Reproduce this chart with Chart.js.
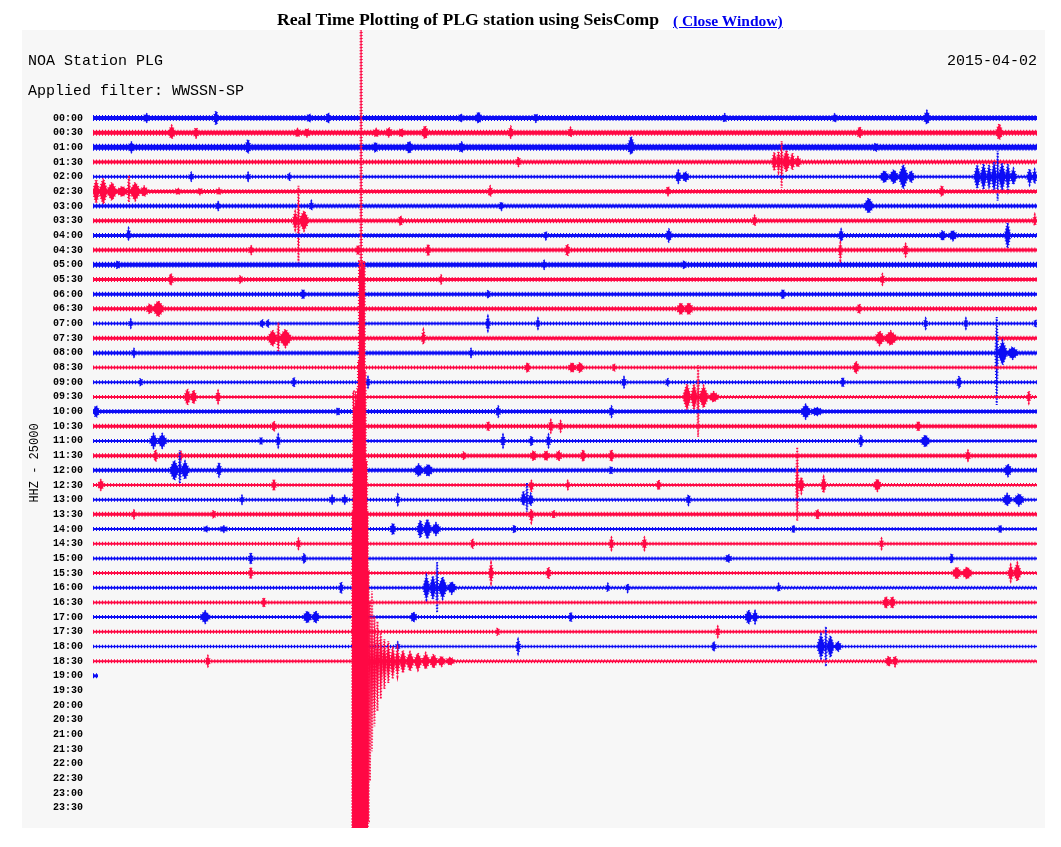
<!DOCTYPE html>
<html>
<head>
<meta charset="utf-8">
<title>PLG helicorder</title>
<script src="https://cdn.jsdelivr.net/npm/chart.js@4.4.1/dist/chart.umd.min.js"></script>
<style>
  body { margin: 0; background: #fff; }
  #wrap { position: relative; width: 1061px; height: 847px; }
  #wrap canvas { position: absolute; left: 0; top: 0; }
  #title { position: absolute; top: 9px; left: 277px; font: bold 17.7px "Liberation Serif", serif; white-space: nowrap; color: #000; z-index: 2; }
  #close { position: absolute; top: 12px; left: 673px; font: bold 15.5px "Liberation Serif", serif; white-space: nowrap; color: #0000ee; z-index: 2; }
</style>
</head>
<body>
<div id="wrap">
  <div id="title">Real Time Plotting of PLG station using SeisComp</div>
  <a id="close" href="#">( Close Window)</a>
  <canvas id="heli" width="1061" height="847"></canvas>
</div>
<script>
// Подписи и заголовки
const stationName = "NOA Station PLG";
const filterName = "Applied filter: WWSSN-SP";
const dateLabel = "2015-04-02";
const channelLabel = "HHZ - 25000";

const rowLabels = [
  "00:00", "00:30", "01:00", "01:30", "02:00", "02:30", "03:00", "03:30",
  "04:00", "04:30", "05:00", "05:30", "06:00", "06:30", "07:00", "07:30",
  "08:00", "08:30", "09:00", "09:30", "10:00", "10:30", "11:00", "11:30",
  "12:00", "12:30", "13:00", "13:30", "14:00", "14:30", "15:00", "15:30",
  "16:00", "16:30", "17:00", "17:30", "18:00", "18:30", "19:00", "19:30",
  "20:00", "20:30", "21:00", "21:30", "22:00", "22:30", "23:00", "23:30"
];

// Расстояние между строками (в единицах амплитуды) и конец записи в последней строке (мин)
const ROW_GAP = 14.68;
const lastTraceEnd = 0.16;

// Фоновый уровень шума для каждой записанной строки (полуамплитуда)
const rowBase = [
  2, 2, 2.5, 1.5, 1, 1.5, 1.5, 1.5, 1.5, 1.5,
  2, 1.5, 1.5, 1.5, 1, 1.5, 1.5, 1, 1, 1,
  1.5, 1.5, 1, 1.5, 1.5, 1, 1, 1.5, 1, 1,
  1, 1, 1, 1, 1, 1, 0.8, 1, 1.5
];

// Всплески по строкам: [начало, конец (мин), вверх, вниз]
const rowEvents = [
  [[1.6, 1.8, 4, 4], [3.84, 3.98, 7, 7], [6.8, 6.95, 4, 4], [7.40, 7.55, 5, 5], [11.62, 11.76, 4, 4], [12.15, 12.35, 6, 5], [14.0, 14.15, 4, 4], [20.0, 20.15, 4, 4], [23.5, 23.65, 4, 4], [26.40, 26.6, 7, 6]],
  [[2.40, 2.6, 7, 6], [3.20, 3.35, 5, 5], [6.4, 6.6, 4, 4], [6.7, 6.9, 4, 4], [8.9, 9.1, 4, 4], [9.3, 9.5, 5, 4], [9.7, 9.9, 4, 4], [10.45, 10.65, 7, 6], [13.2, 13.35, 6, 5], [15.1, 15.25, 5, 4], [24.28, 24.45, 6, 5], [28.70, 28.9, 9, 7]],
  [[1.14, 1.3, 5, 5], [4.85, 5.0, 8, 6], [8.9, 9.05, 5, 5], [9.95, 10.15, 6, 6], [11.62, 11.8, 5, 5], [17.0, 17.2, 11, 7], [24.8, 24.95, 4, 4]],
  [[13.44, 13.6, 5, 4], [21.58, 21.72, 10, 9], [21.72, 21.85, 11, 10], [21.85, 21.92, 21, 26], [21.92, 22.15, 12, 10], [22.15, 22.3, 9, 8], [22.3, 22.5, 5, 5]],
  [[3.05, 3.2, 4, 4], [4.86, 5.0, 4, 4], [6.18, 6.3, 4, 4], [18.5, 18.7, 6, 6], [18.7, 18.95, 5, 5], [25.0, 25.3, 6, 6], [25.3, 25.6, 7, 7], [25.6, 25.9, 12, 12], [25.9, 26.1, 6, 6], [28.0, 28.2, 12, 12], [28.2, 28.4, 13, 13], [28.4, 28.55, 12, 12], [28.55, 28.72, 15, 15], [28.72, 28.78, 26, 24], [28.78, 29.0, 14, 14], [29.0, 29.15, 13, 13], [29.15, 29.35, 8, 8], [29.68, 29.85, 8, 8], [29.85, 30, 7, 7]],
  [[0, 0.2, 12, 12], [0.2, 0.45, 13, 13], [0.45, 0.75, 9, 9], [0.75, 1.1, 5, 5], [1.1, 1.18, 16, 11], [1.18, 1.5, 9, 9], [1.5, 1.75, 5, 5], [2.6, 2.8, 3, 3], [3.3, 3.5, 3, 3], [3.9, 4.1, 3, 3], [12.55, 12.7, 5, 5], [18.2, 18.35, 5, 4], [26.9, 27.05, 6, 5]],
  [[3.9, 4.05, 4, 4], [6.88, 7.0, 5, 4], [12.9, 13.05, 4, 4], [24.5, 24.8, 8, 7]],
  [[6.35, 6.50, 9, 9], [6.50, 6.56, 35, 42], [6.56, 6.85, 10, 10], [9.7, 9.85, 5, 5], [20.95, 21.1, 5, 5], [29.88, 29.98, 6, 5]],
  [[1.06, 1.2, 7, 4], [14.33, 14.45, 4, 4], [18.2, 18.4, 6, 6], [23.7, 23.85, 6, 6], [26.9, 27.1, 5, 5], [27.2, 27.45, 5, 5], [28.98, 29.15, 13, 13]],
  [[4.95, 5.1, 4, 4], [8.35, 8.5, 5, 5], [10.58, 10.72, 6, 6], [15.0, 15.15, 6, 6], [23.7, 23.8, 7, 10], [25.75, 25.9, 6, 6]],
  [[0.72, 0.85, 4, 4], [14.28, 14.4, 4, 4], [18.72, 18.85, 4, 4]],
  [[2.4, 2.55, 6, 6], [4.62, 4.75, 4, 4], [11.0, 11.12, 4, 4], [25.03, 25.15, 5, 5]],
  [[6.6, 6.75, 5, 5], [12.5, 12.62, 4, 4], [21.85, 22.0, 5, 5]],
  [[1.7, 1.9, 5, 5], [1.9, 2.25, 8, 8], [18.56, 18.8, 6, 6], [18.8, 19.07, 6, 6], [24.28, 24.42, 5, 5]],
  [[1.14, 1.26, 4, 4], [5.3, 5.45, 4, 4], [5.5, 5.62, 4, 4], [12.48, 12.62, 7, 7], [14.08, 14.2, 5, 5], [26.4, 26.52, 5, 5], [27.68, 27.8, 5, 5], [29.9, 30, 4, 4]],
  [[5.56, 5.85, 8, 8], [5.85, 5.93, 16, 14], [5.93, 6.3, 9, 9], [10.44, 10.56, 8, 6], [24.85, 25.15, 7, 7], [25.15, 25.55, 7, 7]],
  [[1.24, 1.36, 4, 4], [11.95, 12.08, 4, 4], [28.68, 28.76, 36, 52], [28.76, 29.05, 12, 12], [29.05, 29.4, 6, 6]],
  [[13.72, 13.9, 5, 5], [15.1, 15.35, 5, 5], [15.35, 15.6, 5, 5], [16.5, 16.62, 4, 4], [24.15, 24.35, 6, 6]],
  [[1.45, 1.58, 4, 4], [6.32, 6.45, 5, 5], [8.68, 8.8, 5, 5], [16.8, 16.95, 5, 5], [18.2, 18.32, 4, 4], [23.76, 23.9, 5, 5], [27.45, 27.6, 6, 6]],
  [[2.9, 3.1, 8, 8], [3.1, 3.3, 7, 7], [3.9, 4.05, 6, 6], [18.75, 19.0, 13, 13], [19.0, 19.2, 13, 13], [19.2, 19.26, 32, 40], [19.26, 19.55, 11, 11], [19.55, 19.9, 5, 5], [29.68, 29.8, 6, 6]],
  [[0, 0.2, 6, 6], [7.72, 7.85, 4, 4], [12.8, 12.95, 5, 5], [16.4, 16.55, 5, 5], [22.5, 22.8, 7, 7], [22.8, 23.2, 4, 4]],
  [[5.68, 5.82, 5, 5], [12.5, 12.62, 5, 5], [14.48, 14.62, 6, 6], [14.8, 14.92, 5, 5], [26.15, 26.3, 5, 5]],
  [[1.8, 2.05, 7, 7], [2.05, 2.35, 7, 7], [5.28, 5.4, 4, 4], [5.82, 5.95, 6, 6], [12.96, 13.1, 6, 6], [13.86, 14.0, 5, 5], [14.4, 14.55, 6, 6], [24.33, 24.48, 6, 6], [26.3, 26.6, 6, 6]],
  [[1.93, 2.05, 6, 6], [2.72, 2.85, 5, 5], [11.72, 11.85, 4, 4], [13.9, 14.1, 5, 5], [14.3, 14.5, 5, 5], [14.7, 14.9, 5, 5], [15.5, 15.65, 6, 6], [16.4, 16.55, 6, 6], [27.73, 27.88, 5, 5]],
  [[2.45, 2.72, 10, 10], [2.72, 2.8, 20, 13], [2.8, 3.05, 9, 9], [3.93, 4.08, 8, 6], [10.2, 10.5, 6, 6], [10.5, 10.8, 6, 6], [16.4, 16.52, 4, 4], [28.95, 29.2, 6, 6]],
  [[0.15, 0.35, 5, 5], [5.68, 5.82, 6, 6], [13.86, 14.0, 4, 7], [15.03, 15.15, 4, 4], [17.9, 18.05, 5, 5], [22.34, 22.42, 38, 36], [22.42, 22.6, 8, 8], [23.14, 23.3, 8, 8], [24.8, 25.05, 6, 6]],
  [[4.67, 4.8, 4, 4], [7.5, 7.7, 4, 4], [7.9, 8.1, 4, 4], [9.62, 9.75, 5, 5], [13.6, 13.76, 9, 6], [13.76, 13.82, 17, 12], [13.82, 14.0, 6, 6], [18.85, 19.0, 5, 5], [28.9, 29.2, 6, 6], [29.25, 29.6, 6, 6]],
  [[1.24, 1.36, 4, 4], [3.77, 3.9, 4, 4], [13.86, 14.0, 5, 8], [14.58, 14.7, 4, 4], [22.95, 23.1, 5, 5]],
  [[3.5, 3.7, 3, 3], [4.0, 4.3, 3, 3], [9.44, 9.62, 6, 6], [10.3, 10.5, 9, 9], [10.5, 10.75, 10, 10], [10.75, 11.05, 6, 6], [13.32, 13.45, 4, 4], [22.2, 22.32, 4, 4], [28.76, 28.9, 4, 4]],
  [[6.46, 6.6, 5, 5], [12.0, 12.12, 5, 5], [16.4, 16.55, 6, 6], [17.45, 17.6, 6, 6], [25.0, 25.12, 5, 5]],
  [[4.95, 5.08, 6, 6], [6.64, 6.78, 5, 5], [20.08, 20.3, 4, 4], [27.22, 27.35, 5, 5]],
  [[4.95, 5.08, 6, 6], [12.58, 12.72, 10, 10], [14.4, 14.55, 6, 6], [27.3, 27.6, 6, 6], [27.6, 27.95, 6, 6], [29.08, 29.25, 8, 8], [29.25, 29.5, 10, 8]],
  [[7.82, 7.95, 6, 6], [10.49, 10.7, 12, 12], [10.7, 10.9, 12, 12], [10.9, 10.97, 26, 25], [10.97, 11.25, 11, 11], [11.25, 11.55, 6, 6], [16.3, 16.42, 4, 4], [16.93, 17.05, 4, 4], [21.73, 21.85, 4, 4]],
  [[5.36, 5.5, 5, 5], [25.1, 25.3, 6, 6], [25.3, 25.5, 6, 6]],
  [[3.4, 3.72, 6, 6], [6.67, 6.95, 6, 6], [6.95, 7.2, 6, 6], [10.07, 10.3, 5, 5], [15.12, 15.25, 5, 5], [20.72, 20.95, 7, 7], [20.95, 21.13, 6, 6]],
  [[12.8, 12.92, 4, 4], [19.79, 19.92, 5, 5]],
  [[9.62, 9.75, 4, 4], [13.44, 13.58, 7, 7], [19.66, 19.8, 5, 5], [23.01, 23.26, 12, 12], [23.26, 23.32, 20, 20], [23.32, 23.55, 11, 11], [23.55, 23.8, 5, 5]],
  // 18:30 — кода землетрясения
  [[3.58, 3.72, 5, 5],
   [8.77, 8.83, 60, 120], [8.83, 8.9, 70, 90], [8.9, 8.99, 45, 65], [8.99, 9.09, 40, 50], [9.09, 9.2, 30, 38],
   [9.2, 9.32, 22, 28], [9.32, 9.45, 20, 22], [9.45, 9.6, 15, 18], [9.6, 9.75, 13, 15], [9.75, 9.95, 11, 12],
   [9.95, 10.2, 9, 10], [10.2, 10.45, 8, 9], [10.45, 10.7, 8, 8], [10.7, 10.95, 7, 7], [10.95, 11.2, 5, 5],
   [11.2, 11.5, 4, 4], [25.17, 25.4, 5, 5], [25.4, 25.58, 5, 5]],
  []
];

// Главная фаза землетрясения в строке 18:30: [время (мин), вверх, вниз] по столбцам
const QUAKE_ROW = 37;
const quakeColumns = [
  [8.23, 150, 170], [8.26, 270, 170], [8.29, 255, 170], [8.33, 270, 170], [8.36, 262, 170],
  [8.39, 272, 170], [8.42, 300, 170], [8.45, 400, 170], [8.48, 392, 170], [8.50, 640, 170],
  [8.54, 400, 170], [8.58, 395, 170], [8.61, 400, 170], [8.64, 290, 170], [8.67, 200, 170],
  [8.71, 150, 170], [8.74, 90, 160]
];
const quakeCoreEnd = 8.77;

const BLUE = "#0c0cf5";
const RED = "#ff0844";

// Сборка огибающих: каждый всплеск — веретено (подъём к середине и спад).
// x строго растёт, иначе заливка между огибающими рвётся.
const EPS = 0.002;
function buildRow(r) {
  const base = rowBase[r];
  const off = r * ROW_GAP;
  const end = r === rowBase.length - 1 ? lastTraceEnd : 30;
  const segs = rowEvents[r].map(([s, e, up, down]) => ({ s, e, up, down }));
  if (r === QUAKE_ROW) segs.push({ s: quakeColumns[0][0], e: quakeCoreEnd, cols: quakeColumns });
  segs.sort((a, b) => a.s - b.s);

  const upper = [];
  const lower = [];
  const add = (x, up, down) => {
    const last = upper[upper.length - 1];
    if (last && x <= last.x) return;
    upper.push({ x, y: off - up });
    lower.push({ x, y: off + down });
  };
  add(0, base, base);
  segs.forEach((seg) => {
    add(seg.s, base, base);
    if (seg.cols) {
      seg.cols.forEach(([t, up, down], i) => {
        const next = i + 1 < seg.cols.length ? seg.cols[i + 1][0] : seg.e;
        add(t + EPS, up, down);
        add(next - EPS, up, down);
      });
    } else {
      add((seg.s + seg.e) / 2, seg.up, seg.down);
    }
    add(seg.e, base, base);
  });
  add(end, base, base);
  return { upper, lower };
}

const datasets = [];
rowBase.forEach((_, r) => {
  const { upper, lower } = buildRow(r);
  const color = r % 2 ? RED : BLUE;
  // пунктирная кромка даёт «шумную» фактуру трассы
  const common = {
    borderColor: color, backgroundColor: color, borderWidth: 2, borderDash: [1, 2],
    pointRadius: 0, tension: 0, order: -r
  };
  datasets.push({ ...common, data: upper, fill: false });
  datasets.push({ ...common, data: lower, fill: "-1" });
});

// Фон панели и надписи
const panelPlugin = {
  id: "panel",
  beforeDraw(chart) {
    const c = chart.ctx;
    c.save();
    c.fillStyle = "#f7f7f7";
    c.fillRect(22, 30, 1023, 798);
    c.fillStyle = "#000";
    c.font = '15px "Liberation Mono", monospace';
    c.textBaseline = "alphabetic";
    c.textAlign = "left";
    c.fillText(stationName, 28, 65);
    c.fillText(filterName, 28, 95);
    c.textAlign = "right";
    c.fillText(dateLabel, 1037, 65);
    c.translate(38, 463);
    c.rotate(-Math.PI / 2);
    c.textAlign = "center";
    c.font = '12px "Liberation Mono", monospace';
    c.fillText(channelLabel, 0, 0);
    c.restore();
  }
};

new Chart(document.getElementById("heli").getContext("2d"), {
  type: "line",
  data: { datasets },
  options: {
    responsive: false,
    animation: false,
    events: [],
    layout: { padding: { top: 30, right: 24, bottom: 19, left: 0 } },
    plugins: { legend: { display: false }, tooltip: { enabled: false } },
    scales: {
      x: { type: "linear", min: 0, max: 30, display: false },
      y: {
        type: "linear",
        reverse: true,
        min: -88,
        max: 710,
        grid: { display: false, drawTicks: false },
        border: { display: false },
        afterFit: (s) => { s.width = 93; },
        afterBuildTicks: (s) => { s.ticks = rowLabels.map((_, i) => ({ value: i * ROW_GAP })); },
        ticks: {
          autoSkip: false,
          padding: 10,
          color: "#000",
          font: { family: "Liberation Mono", size: 10, weight: "bold" },
          callback: (v, i) => rowLabels[i]
        }
      }
    }
  },
  plugins: [panelPlugin]
});
</script>
</body>
</html>
